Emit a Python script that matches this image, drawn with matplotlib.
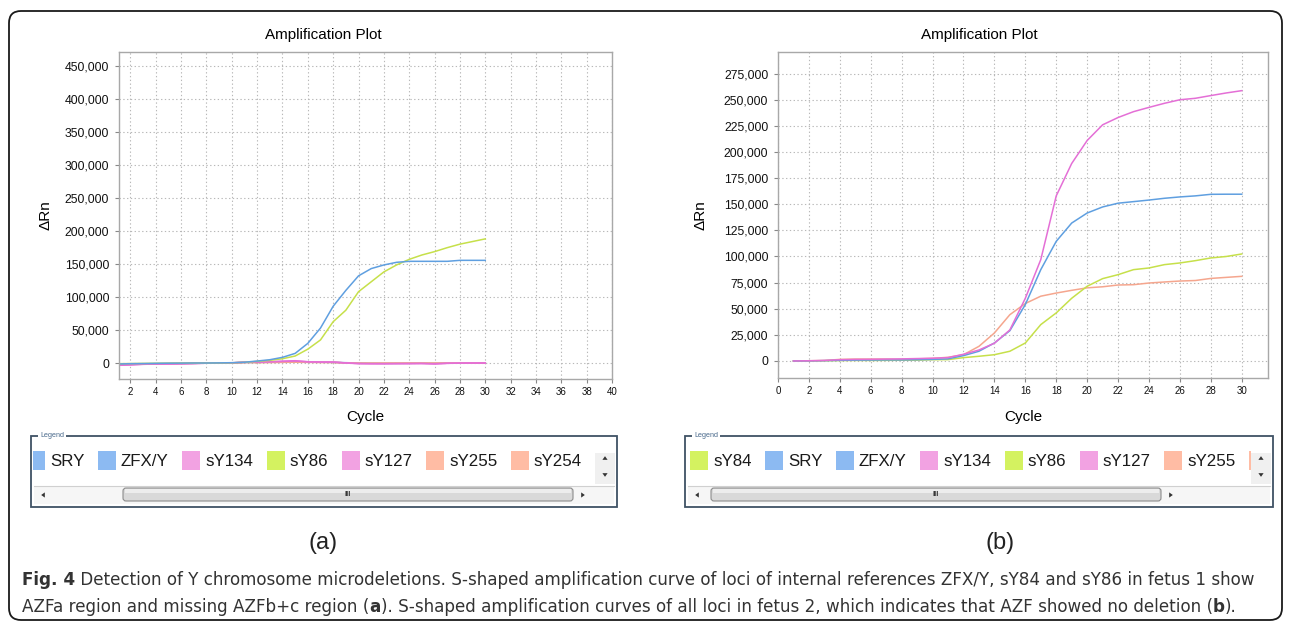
import matplotlib
matplotlib.use('Agg')
import matplotlib.pyplot as plt
from matplotlib.patches import Rectangle, FancyBboxPatch, Polygon
from matplotlib.ticker import FuncFormatter, MultipleLocator
from matplotlib import font_manager
import numpy as np

# ---------------- data ----------------
cycles = list(range(1, 31))

# panel (a)
a_zfxy = [-1500, -1000, -800, -500, -300, -200, 0, 0, 200, 500, 1200, 3000, 5000, 8600, 14600,
          29800, 53000, 86000, 110000, 132000, 143000, 148500, 152500, 154000, 154000, 154000,
          154000, 155500, 155500, 155500]
a_sy86 = [-1000, -800, -600, -400, -300, -200, -100, 0, 100, 300, 1000, 2500, 4000, 6500, 10600,
          21000, 35000, 62600, 80000, 108000, 123000, 138000, 148500, 157000, 163600, 168700,
          174700, 180000, 184000, 188000]
a_sry = [-2000, -1500, -1200, -1000, -800, -600, -400, -200, 0, 200, 800, 1000, 1200, 1500, 1800,
         1500, 1200, 1000, 500, 0, -300, -500, -500, -400, -300, -300, -200, -100, 0, 0]
a_sy134 = [-3500, -3000, -2000, -1500, -1500, -1200, -800, -300, 0, 300, 1200, 1500, 2000, 2800, 3500,
           2000, 1500, 1500, 0, -1000, -1200, -1200, -1000, -1000, -800, -1500, -500, -200, 0, 0]
a_sy127 = [-3000, -2500, -1800, -1400, -1300, -1000, -700, -300, 0, 200, 1000, 1300, 1800, 2400, 3000,
           1800, 1400, 1300, 200, -800, -1000, -1000, -900, -800, -700, -1200, -400, -100, 0, 0]
a_sy255 = [-2500, -2000, -1500, -1200, -1000, -800, -500, -200, 0, 300, 1000, 800, 1000, 1200, 1500,
           1200, 1000, 1000, 300, -300, -300, -300, -200, -200, -200, -300, -100, 0, 0, 0]
a_sy254 = [-2200, -1800, -1400, -1100, -900, -700, -400, -200, 0, 200, 900, 700, 900, 1000, 1300,
           1000, 900, 800, 200, -200, -300, -200, -200, -100, -100, -200, 0, 0, 0, 0]

# panel (b)
b_sy127 = [0, 200, 500, 1200, 1500, 1600, 1800, 2000, 2300, 2600, 3200, 6400, 10500, 17000, 29700,
           60000, 97000, 158000, 189000, 211000, 226000, 233000, 238600, 242700, 246600, 250000,
           251400, 254000, 256500, 258700]
b_zfxy = [0, 100, 300, 600, 800, 900, 1000, 1000, 1200, 1500, 2000, 5100, 9300, 17200, 29000,
          54000, 87400, 114500, 132000, 141600, 147400, 151000, 152500, 154000, 155700, 157000,
          158000, 159500, 159600, 159600]
b_sy86 = [0, 100, 200, 400, 500, 500, 600, 700, 800, 1200, 1300, 3200, 4500, 6000, 9300,
          17200, 34800, 46000, 60000, 71500, 78800, 82600, 87400, 89000, 92200, 93800,
          96000, 98600, 100000, 102400]
b_sy255 = [0, 200, 500, 1500, 1800, 1800, 1800, 1500, 2000, 2500, 3500, 6000, 14000, 26800, 44300,
           55000, 62000, 65000, 67600, 70000, 71000, 72700, 73000, 74600, 75600, 76500,
           77000, 79000, 80000, 81000]

legend_a_names = ['SRY', 'ZFX/Y', 'sY134', 'sY86', 'sY127', 'sY255', 'sY254']
legend_b_names = ['sY84', 'SRY', 'ZFX/Y', 'sY134', 'sY86', 'sY127', 'sY255', 'sY254']

title_text = 'Amplification Plot'
xlabel_text = 'Cycle'
ylabel_text = 'ΔRn'
caption_line1 = [('Fig. 4', 'bold'),
                 (' Detection of Y chromosome microdeletions. S-shaped amplification curve of loci of internal references ZFX/Y, sY84 and sY86 in fetus 1 show', 'normal')]
caption_line2 = [('AZFa region and missing AZFb+c region (', 'normal'), ('a', 'bold'),
                 ('). S-shaped amplification curves of all loci in fetus 2, which indicates that AZF showed no deletion (', 'normal'),
                 ('b', 'bold'), (').', 'normal')]

# ---------------- style ----------------
line_col = {'SRY': '#5f9fe0', 'ZFX/Y': '#5f9fe0', 'sY134': '#e872d8', 'sY127': '#e46fd6',
            'sY86': '#c6e04a', 'sY84': '#c6e04a', 'sY255': '#f5a68e', 'sY254': '#f5a68e'}
swatch_col = {'SRY': '#8cbaf2', 'ZFX/Y': '#8cbaf2', 'sY134': '#f2a2e2', 'sY127': '#f2a2e2',
              'sY86': '#d4f260', 'sY84': '#d4f260', 'sY255': '#ffbca4', 'sY254': '#ffbca4'}

plt.rcParams['font.family'] = ['Liberation Sans', 'DejaVu Sans']
names_installed = {f.name for f in font_manager.fontManager.ttflist}
if 'Liberation Sans Narrow' in names_installed:
    cap_family = ['Liberation Sans Narrow', 'DejaVu Sans']
elif 'DejaVu Sans Condensed' in names_installed:
    cap_family = ['DejaVu Sans Condensed', 'DejaVu Sans']
else:
    cap_family = ['DejaVu Sans']

W, H = 1290, 626
fig = plt.figure(figsize=(W / 100, H / 100), dpi=100)
renderer = fig.canvas.get_renderer()

ov = fig.add_axes([0, 0, 1, 1])
ov.set_xlim(0, W)
ov.set_ylim(H, 0)
ov.axis('off')


def px_axes(l, t, r, b):
    return fig.add_axes([l / W, 1 - b / H, (r - l) / W, (b - t) / H])


def style_axes(ax, xlim, ylim, ystep, xticks):
    ax.set_xlim(*xlim)
    ax.set_ylim(*ylim)
    ax.yaxis.set_major_locator(MultipleLocator(ystep))
    ax.set_xticks(xticks)
    ax.yaxis.set_major_formatter(FuncFormatter(lambda v, p: f'{int(round(v)):,}'))
    for s in ax.spines.values():
        s.set_color('#a8a8a8')
        s.set_linewidth(1.0)
    ax.grid(True, linestyle=(0, (1.2, 2.2)), color='#b8b8b8', linewidth=0.8)
    ax.set_axisbelow(True)
    ax.tick_params(axis='y', labelsize=8.8, length=3, width=0.8, color='#888888', pad=4,
                   labelcolor='#111111')
    ax.tick_params(axis='x', labelsize=7, length=3, width=0.8, color='#888888', pad=3,
                   labelcolor='#111111')
    ax.set_xlabel(xlabel_text, fontsize=11)
    ax.set_ylabel(ylabel_text, fontsize=11)


axA = px_axes(119, 52, 612, 379)
axB = px_axes(778, 52, 1268, 378)

style_axes(axA, (1.1, 40), (-24200, 471000), 50000, list(range(2, 41, 2)))
style_axes(axB, (0, 31.7), (-16300, 295700), 25000, list(range(0, 31, 2)))
axA.yaxis.set_label_coords(-0.134, 0.5)
axB.yaxis.set_label_coords(-0.144, 0.5)
axA.xaxis.set_label_coords(0.5, -0.095)
axB.xaxis.set_label_coords(0.5, -0.098)

lw = 1.1
axA.plot(cycles, a_sry, color=line_col['SRY'], lw=lw)
axA.plot(cycles, a_sy255, color=line_col['sY255'], lw=lw)
axA.plot(cycles, a_sy254, color=line_col['sY254'], lw=lw)
axA.plot(cycles, a_sy134, color=line_col['sY134'], lw=lw)
axA.plot(cycles, a_sy127, color=line_col['sY127'], lw=lw)
axA.plot(cycles, a_sy86, color=line_col['sY86'], lw=lw)
axA.plot(cycles, a_zfxy, color=line_col['ZFX/Y'], lw=lw)

axB.plot(cycles, b_sy255, color=line_col['sY255'], lw=lw)
axB.plot(cycles, b_sy86, color=line_col['sY86'], lw=lw)
axB.plot(cycles, b_zfxy, color=line_col['ZFX/Y'], lw=lw)
axB.plot(cycles, b_sy127, color=line_col['sY127'], lw=lw)

fig.text(323 / W, 1 - 35 / H, title_text, ha='center', va='center', fontsize=11)
fig.text(979 / W, 1 - 35 / H, title_text, ha='center', va='center', fontsize=11)

# outer rounded frame
ov.add_patch(FancyBboxPatch((9, 11), 1273, 609, boxstyle='round,pad=0,rounding_size=12',
                            fc='none', ec='#1a1a1a', lw=1.3))


def tri(x, y, d, s=2.6):
    if d == 'up':
        pts = [(x - s, y + s * 0.7), (x + s, y + s * 0.7), (x, y - s * 0.7)]
    elif d == 'down':
        pts = [(x - s, y - s * 0.7), (x + s, y - s * 0.7), (x, y + s * 0.7)]
    elif d == 'left':
        pts = [(x + s * 0.7, y - s), (x + s * 0.7, y + s), (x - s * 0.7, y)]
    else:
        pts = [(x - s * 0.7, y - s), (x - s * 0.7, y + s), (x + s * 0.7, y)]
    ov.add_patch(Polygon(pts, closed=True, fc='#333333', ec='none'))


def draw_legend(x0, x1, names, first_x, thumb_x0, thumb_x1):
    y0, y1 = 436, 507
    ov.add_patch(Rectangle((x0, y0), x1 - x0, y1 - y0, fill=False, ec='#3f5265', lw=1.3))
    ov.text(x0 + 9, y0 - 0.5, 'Legend', fontsize=5.2, color='#4a6a8c', va='center', ha='left',
            bbox=dict(fc='white', ec='none', pad=1.2))
    clip_right = x1 - 22
    clip = Rectangle((x0 + 2, 444), clip_right - (x0 + 2), 38, transform=ov.transData)
    x = first_x
    for nm in names:
        if x >= clip_right:
            break
        r = Rectangle((x, 451), 18, 19, fc=swatch_col[nm], ec='none')
        ov.add_patch(r)
        r.set_clip_path(clip)
        if x + 23 >= clip_right:
            break
        t = ov.text(x + 23, 461.5, nm, fontsize=12.2, va='center', ha='left', color='#1a1a1a')
        t.set_clip_on(True)
        t.set_clip_path(clip)
        w = t.get_window_extent(renderer=renderer).width
        x = x + 23 + w + 13.5
    # vertical scroll zone
    ov.add_patch(Rectangle((x1 - 22, 453), 20, 31, fc='#f0f0f0', ec='none'))
    tri(x1 - 12, 458, 'up')
    tri(x1 - 12, 475, 'down')
    # horizontal scroll bar
    ov.add_patch(Rectangle((x0 + 3, 485.5), (x1 - 3) - (x0 + 3), 18, fc='#f6f6f6', ec='none'))
    ov.plot([x0 + 3, x1 - 3], [485.5, 485.5], color='#d0d0d0', lw=0.8)
    tri(x0 + 12, 495, 'left')
    tri(thumb_x1 + 10, 495, 'right')
    ov.add_patch(FancyBboxPatch((thumb_x0, 488), thumb_x1 - thumb_x0, 13,
                                boxstyle='round,pad=0,rounding_size=3',
                                fc='#d9d9d9', ec='#8c8c8c', lw=0.8))
    ov.add_patch(Rectangle((thumb_x0 + 2, 489), thumb_x1 - thumb_x0 - 4, 4, fc='#ededed', ec='none'))
    ov.text((thumb_x0 + thumb_x1) / 2, 494.5, 'III', fontsize=5.5, ha='center', va='center',
            color='#333333', fontweight='bold')


draw_legend(31, 617, legend_a_names, 27, 123, 573)
draw_legend(685, 1273, legend_b_names, 690, 711, 1161)

ov.text(323, 543, '(a)', fontsize=17, ha='center', va='center', color='#222222')
ov.text(1000, 543, '(b)', fontsize=17, ha='center', va='center', color='#222222')


def draw_segments(x, y, segs, size):
    arts = []
    for txt, wt in segs:
        t = ov.text(x, y, txt, fontsize=size, fontweight=wt, family=cap_family,
                    va='center', ha='left', color='#333333')
        w = t.get_window_extent(renderer=renderer).width
        arts.append(t)
        x += w
    return arts, x


arts, xend = draw_segments(22, 580, caption_line1, 12)
for a in arts:
    a.remove()
cap_size = 12 * (1256 - 22) / (xend - 22)
draw_segments(22, 580, caption_line1, cap_size)
draw_segments(22, 607, caption_line2, cap_size)

fig.savefig('out.png', dpi=100)
